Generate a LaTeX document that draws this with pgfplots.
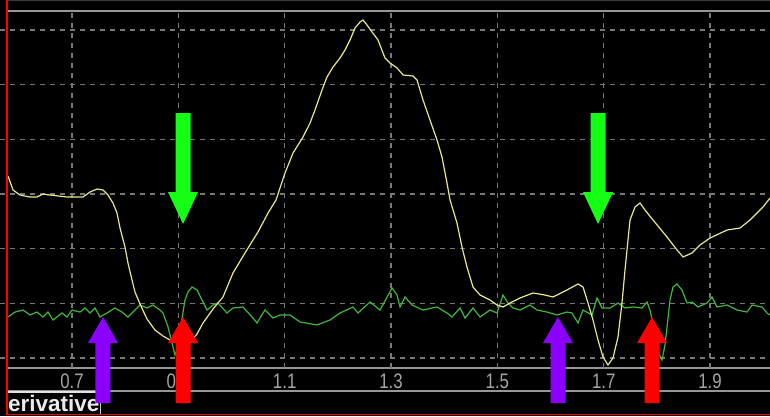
\documentclass[border=0pt]{standalone}
\usepackage{fontspec}
\setmainfont{Liberation Sans}
\usepackage{graphicx}
\usepackage{pgfplots}
\pgfplotsset{compat=1.18}

\definecolor{trace}{RGB}{232,232,140}
\definecolor{deriv}{RGB}{65,182,60}
\definecolor{arrgreen}{RGB}{20,255,20}
\definecolor{arrred}{RGB}{255,0,0}
\definecolor{arrpurple}{RGB}{140,0,255}
\definecolor{gridgray}{RGB}{120,120,120}
\definecolor{framegray}{RGB}{150,150,150}
\definecolor{labelgray}{RGB}{165,165,165}
\definecolor{topgray}{RGB}{60,60,60}
\definecolor{capline}{RGB}{225,225,225}
\definecolor{cursor}{RGB}{200,200,200}
\definecolor{captext}{RGB}{235,235,235}

% block arrows drawn at a named tip, body sized in pt
\newcommand\markerup[2]{%
  \fill[#2] (#1) -- ++(15pt,-26pt) -- ++(-7.5pt,0pt) -- ++(0pt,-60pt)
    -- ++(-15pt,0pt) -- ++(0pt,60pt) -- ++(-7.5pt,0pt) -- cycle;}
\newcommand\markerdown[2]{%
  \fill[#2] (#1) -- ++(15pt,32pt) -- ++(-7.5pt,0pt) -- ++(0pt,79pt)
    -- ++(-15pt,0pt) -- ++(0pt,-79pt) -- ++(-7.5pt,0pt) -- cycle;}

\newcommand\lbl[1]{\scalebox{0.8}[1]{#1}}

\begin{document}
\begin{tikzpicture}
% window background, frame lines and caption strip
\fill[black] (0pt,0pt) rectangle (770pt,416pt);
\draw[topgray, line width=1pt] (8pt,415pt) -- (770pt,415pt);
\draw[framegray, line width=1.2pt] (8pt,405pt) -- (770pt,405pt);
\draw[framegray, line width=1.2pt] (8pt,48pt) -- (770pt,48pt);
\draw[framegray, line width=1.2pt] (8pt,25pt) -- (770pt,25pt);
\draw[capline, line width=1.2pt] (8pt,24pt) -- (100pt,24pt);
\draw[cursor, line width=0.8pt] (100pt,24pt) -- (100pt,2pt);
\node[anchor=base west, inner sep=0pt, text=captext,
  font=\fontsize{22.5}{22.5}\selectfont\bfseries] at (8pt,5pt) {erivative};

\begin{axis}[
  at={(0pt,48pt)}, anchor=south west,
  scale only axis, width=770pt, height=357pt,
  xmin=0.5646, xmax=2.0128,
  ymin=-0.1829, ymax=6.3472,
  axis line style={draw=none},
  major tick length=0pt,
  xtick={0.7,0.9,1.1,1.3,1.5,1.7,1.9},
  xticklabels={\lbl{0.7},\lbl{0.9},\lbl{1.1},\lbl{1.3},\lbl{1.5},\lbl{1.7},\lbl{1.9}},
  ytick={0,1,2,3,4,5,6},
  yticklabels={},
  xticklabel style={anchor=center, yshift=-13pt, text=labelgray,
    font=\fontsize{21}{21}\selectfont},
  grid=major,
  major grid style={draw=gridgray, line width=1.1pt, dash pattern=on 5pt off 5pt},
  clip=false,
]
% derivative trace
\addplot[deriv, line width=1.2pt] coordinates {
(0.5796,0.750) (0.5928,0.841) (0.6079,0.878) (0.6210,0.787) (0.6342,0.841)
(0.6455,0.750) (0.6549,0.841) (0.6643,0.695) (0.6812,0.823) (0.6906,0.750)
(0.7000,0.878) (0.7151,0.841) (0.7245,0.915) (0.7339,0.823) (0.7433,0.915)
(0.7527,0.750) (0.7658,0.823) (0.7809,0.915) (0.7941,0.841) (0.8053,0.750)
(0.8279,0.969) (0.8411,0.915) (0.8524,0.969) (0.8655,0.878) (0.8712,0.823)
(0.8806,0.567) (0.8881,0.274) (0.8937,0.055) (0.8975,0.146) (0.9050,0.604)
(0.9125,1.061) (0.9182,1.207) (0.9257,1.299) (0.9351,1.244) (0.9445,1.061)
(0.9539,0.878) (0.9652,0.969) (0.9746,1.006) (0.9915,0.823) (1.0028,0.915)
(1.0216,0.933) (1.0386,0.750) (1.0480,0.640) (1.0536,0.732) (1.0630,0.878)
(1.0781,0.732) (1.0913,0.787) (1.1100,0.787) (1.1288,0.659) (1.1608,0.604)
(1.1853,0.695) (1.2041,0.823) (1.2285,0.933) (1.2379,0.823) (1.2605,1.024)
(1.2793,0.878) (1.3019,1.280) (1.3113,1.152) (1.3169,0.933) (1.3263,1.116)
(1.3395,0.969) (1.3602,0.878) (1.3865,0.933) (1.4053,0.823) (1.4147,0.750)
(1.4298,0.915) (1.4392,0.732) (1.4542,0.915) (1.4674,0.750) (1.4862,0.878)
(1.4994,0.823) (1.5106,1.152) (1.5200,1.006) (1.5294,0.915) (1.5426,0.878)
(1.5614,0.969) (1.5746,0.878) (1.5934,0.841) (1.6122,0.787) (1.6310,0.841)
(1.6404,0.823) (1.6517,0.640) (1.6611,0.878) (1.6780,0.787) (1.6874,1.098)
(1.6968,0.915) (1.7119,0.915) (1.7269,1.006) (1.7401,0.915) (1.7552,0.933)
(1.7721,0.915) (1.7815,1.024) (1.7871,0.878) (1.7928,0.604) (1.8003,0.146)
(1.8097,-0.037) (1.8153,0.238) (1.8191,0.567) (1.8247,1.061) (1.8304,1.299)
(1.8379,1.354) (1.8473,1.244) (1.8567,1.006) (1.8661,1.024) (1.8774,0.933)
(1.8943,1.006) (1.9037,1.116) (1.9131,0.933) (1.9320,0.969) (1.9508,0.878)
(1.9696,0.841) (1.9790,0.969) (1.9978,0.933) (2.0072,0.823) (2.0128,0.787)
};

% signal trace
\addplot[trace, line width=1.2pt] coordinates {
(0.5796,3.329) (0.5891,3.073) (0.6022,2.981) (0.6210,2.945) (0.6342,2.945)
(0.6455,2.999) (0.6586,2.981) (0.6906,2.945) (0.7207,2.945) (0.7339,3.036)
(0.7470,3.091) (0.7583,3.073) (0.7677,2.981) (0.7771,2.835) (0.7847,2.652)
(0.7903,2.378) (0.7997,2.030) (0.8053,1.738) (0.8129,1.426) (0.8185,1.207)
(0.8279,0.988) (0.8411,0.713) (0.8561,0.512) (0.8712,0.402) (0.8843,0.329)
(0.8994,0.274) (0.9144,0.256) (0.9257,0.329) (0.9351,0.439) (0.9464,0.640)
(0.9652,0.896) (0.9840,1.116) (1.0028,1.555) (1.0254,1.921) (1.0498,2.305)
(1.0687,2.652) (1.0837,2.890) (1.1006,3.384) (1.1157,3.750) (1.1345,4.042)
(1.1477,4.298) (1.1570,4.536) (1.1702,4.902) (1.1796,5.140) (1.1909,5.323)
(1.2041,5.488) (1.2135,5.634) (1.2229,5.817) (1.2323,6.036) (1.2417,6.146)
(1.2473,6.183) (1.2548,6.091) (1.2643,5.963) (1.2755,5.817) (1.2887,5.488)
(1.2981,5.396) (1.3113,5.305) (1.3226,5.177) (1.3414,5.158) (1.3489,5.085)
(1.3602,4.719) (1.3733,4.353) (1.3865,3.988) (1.3959,3.677) (1.4053,3.201)
(1.4110,2.890) (1.4241,2.469) (1.4335,2.030) (1.4429,1.664) (1.4542,1.299)
(1.4674,1.152) (1.4862,1.061) (1.4994,0.969) (1.5106,0.933) (1.5238,1.006)
(1.5426,1.098) (1.5671,1.189) (1.5896,1.152) (1.6047,1.116) (1.6310,1.244)
(1.6517,1.354) (1.6611,1.299) (1.6705,1.006) (1.6799,0.695) (1.6893,0.329)
(1.6987,0.018) (1.7081,-0.128) (1.7175,0.000) (1.7269,0.384) (1.7344,1.006)
(1.7401,1.610) (1.7495,2.524) (1.7589,2.762) (1.7683,2.835) (1.7777,2.707)
(1.7928,2.524) (1.8191,2.213) (1.8379,1.976) (1.8492,1.848) (1.8661,1.921)
(1.8812,2.067) (1.9000,2.195) (1.9320,2.341) (1.9564,2.378) (1.9752,2.524)
(1.9997,2.762) (2.0128,2.927)
};

% tips of the event markers
\coordinate (gA) at (axis cs:0.9088,2.451);
\coordinate (gB) at (axis cs:1.6893,2.451);
\coordinate (pA) at (axis cs:0.7583,0.750);
\coordinate (rA) at (axis cs:0.9088,0.750);
\coordinate (pB) at (axis cs:1.6141,0.750);
\coordinate (rB) at (axis cs:1.7909,0.750);
\end{axis}

% event markers
\markerdown{gA}{arrgreen}
\markerdown{gB}{arrgreen}
\markerup{pA}{arrpurple}
\markerup{rA}{arrred}
\markerup{pB}{arrpurple}
\markerup{rB}{arrred}

\draw[arrred, line width=1.5pt] (7pt,416pt) -- (7pt,1.5pt) -- (770pt,1.5pt);

\pgfresetboundingbox
\useasboundingbox (0pt,0pt) rectangle (770pt,416pt);
\end{tikzpicture}
\end{document}
